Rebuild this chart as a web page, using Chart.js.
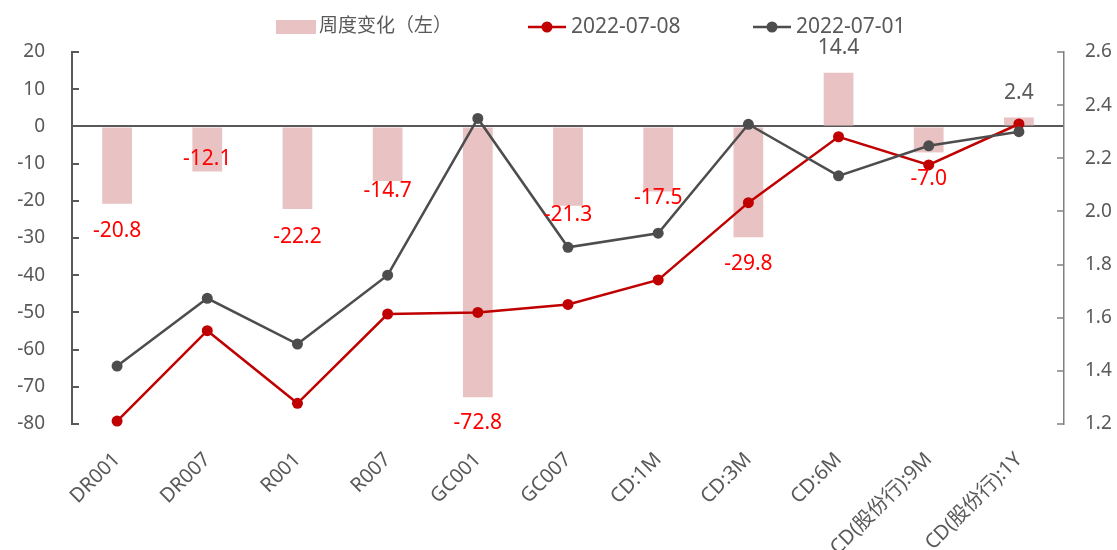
<!DOCTYPE html>
<html>
<head>
<meta charset="utf-8">
<script src="https://cdn.jsdelivr.net/npm/chart.js@4.4.0/dist/chart.umd.min.js"></script>
<style>
  html, body { margin: 0; padding: 0; background: #fff; }
</style>
</head>
<body>
<canvas id="chart" width="1117" height="550"></canvas>
<script>
// DATA
const categories = ['DR001', 'DR007', 'R001', 'R007', 'GC001', 'GC007', 'CD:1M', 'CD:3M', 'CD:6M', 'CD(股份行):9M', 'CD(股份行):1Y'];
const weeklyChange = [-20.8, -12.1, -22.2, -14.7, -72.8, -21.3, -17.5, -29.8, 14.4, -7.0, 2.4];   // bp, left axis
const rate0708 = [1.211, 1.551, 1.278, 1.614, 1.620, 1.650, 1.742, 2.033, 2.281, 2.175, 2.329];   // %, right axis
const rate0701 = [1.418, 1.673, 1.501, 1.760, 2.350, 1.865, 1.918, 2.328, 2.134, 2.247, 2.300];   // %, right axis
const leftTicks = [-80, -70, -60, -50, -40, -30, -20, -10, 0, 10, 20];
const rightTicks = [1.2, 1.4, 1.6, 1.8, 2.0, 2.2, 2.4, 2.6];
const seriesNames = ['周度变化（左）', '2022-07-08', '2022-07-01'];

// label nudges (px from bar end, + = down) so numbers clear the lines like the original
const labelShift = [27, -12, 28, 10, 26, 9, 7, 27, -25, 27, -24];

const TEXT = '#595959';
const BAR = '#E9C3C3';
const RED = '#C00000';
const GREY = '#4D4D4D';
const FAMILY = '"Noto Sans", "Noto Sans CJK SC", sans-serif';

Chart.defaults.font.family = FAMILY;
Chart.defaults.font.size = 19;
Chart.defaults.color = TEXT;

// --- small inward tick marks on both value axes ---
const insideTicks = {
    id: 'insideTicks',
    afterDraw(chart) {
        const ctx = chart.ctx;
        const area = chart.chartArea;
        ctx.save();
        const left = chart.scales.y;
        ctx.strokeStyle = TEXT;
        ctx.lineWidth = 2;
        left.ticks.forEach(t => {
            const py = Math.round(left.getPixelForValue(t.value));
            ctx.beginPath();
            ctx.moveTo(area.left, py);
            ctx.lineTo(area.left + 7, py);
            ctx.stroke();
        });
        const right = chart.scales.y1;
        ctx.strokeStyle = '#808080';
        ctx.lineWidth = 1.5;
        right.ticks.forEach(t => {
            const py = Math.round(right.getPixelForValue(t.value));
            ctx.beginPath();
            ctx.moveTo(area.right, py);
            ctx.lineTo(area.right - 7, py);
            ctx.stroke();
        });
        ctx.restore();
    }
};

// --- value labels on the bars ---
const barLabels = {
    id: 'barLabels',
    afterDatasetsDraw(chart) {
        const ctx = chart.ctx;
        const meta = chart.getDatasetMeta(0);
        ctx.save();
        ctx.font = '21px ' + FAMILY;
        ctx.textAlign = 'center';
        ctx.textBaseline = 'middle';
        meta.data.forEach((bar, i) => {
            const v = weeklyChange[i];
            ctx.fillStyle = v < 0 ? '#FF0000' : TEXT;
            ctx.fillText(v.toFixed(1), bar.x, bar.y + labelShift[i]);
        });
        ctx.restore();
    }
};

// --- legend drawn like the office style one (box / line+dot) ---
const topLegend = {
    id: 'topLegend',
    afterDraw(chart) {
        const ctx = chart.ctx;
        const cy = 27;
        ctx.save();
        ctx.textBaseline = 'middle';
        ctx.textAlign = 'left';

        ctx.fillStyle = BAR;
        ctx.fillRect(276, cy - 7, 40, 14);
        ctx.fillStyle = TEXT;
        ctx.font = '19px ' + FAMILY;
        ctx.fillText(seriesNames[0], 319, cy);

        ctx.font = '21px ' + FAMILY;
        [[528, RED, seriesNames[1]], [753, GREY, seriesNames[2]]].forEach(([x0, col, name]) => {
            ctx.strokeStyle = col;
            ctx.lineWidth = 2.5;
            ctx.beginPath();
            ctx.moveTo(x0, cy);
            ctx.lineTo(x0 + 38, cy);
            ctx.stroke();
            ctx.fillStyle = col;
            ctx.beginPath();
            ctx.arc(x0 + 19, cy, 5.5, 0, Math.PI * 2);
            ctx.fill();
            ctx.fillStyle = TEXT;
            ctx.fillText(name, x0 + 43, cy);
        });
        ctx.restore();
    }
};

const ctx = document.getElementById('chart').getContext('2d');
new Chart(ctx, {
    data: {
        labels: categories,
        datasets: [
            {
                type: 'bar',
                label: seriesNames[0],
                data: weeklyChange,
                backgroundColor: BAR,
                yAxisID: 'y',
                barPercentage: 0.33,
                categoryPercentage: 1,
                order: 3
            },
            {
                type: 'line',
                label: seriesNames[1],
                data: rate0708,
                borderColor: RED,
                backgroundColor: RED,
                borderWidth: 2.5,
                pointRadius: 5.5,
                pointBorderWidth: 0,
                pointBackgroundColor: RED,
                tension: 0,
                clip: false,
                yAxisID: 'y1',
                order: 2
            },
            {
                type: 'line',
                label: seriesNames[2],
                data: rate0701,
                borderColor: GREY,
                backgroundColor: GREY,
                borderWidth: 2.5,
                pointRadius: 5.5,
                pointBorderWidth: 0,
                pointBackgroundColor: GREY,
                tension: 0,
                clip: false,
                yAxisID: 'y1',
                order: 1
            }
        ]
    },
    options: {
        responsive: false,
        animation: false,
        layout: { padding: { top: 52, left: 0, right: 0, bottom: 0 } },
        plugins: {
            legend: { display: false },
            tooltip: { enabled: false }
        },
        scales: {
            x: {
                grid: { display: false, drawTicks: false },
                border: { display: false },
                ticks: { minRotation: 45, maxRotation: 45, padding: 24, color: TEXT, autoSkip: false, font: { size: 20 } },
                afterFit: s => { s.height = 126; }
            },
            y: {
                position: 'left',
                min: leftTicks[0],
                max: leftTicks[leftTicks.length - 1],
                afterBuildTicks: s => { s.ticks = leftTicks.map(v => ({ value: v })); },
                grid: {
                    drawTicks: false,
                    color: c => c.tick && c.tick.value === 0 ? TEXT : 'rgba(0,0,0,0)',
                    lineWidth: 2
                },
                border: { display: true, color: TEXT, width: 2 },
                ticks: { padding: 27, color: TEXT },
                afterFit: s => { s.width = 72; }
            },
            y1: {
                position: 'right',
                min: rightTicks[0],
                max: rightTicks[rightTicks.length - 1],
                afterBuildTicks: s => { s.ticks = rightTicks.map(v => ({ value: v })); },
                grid: { display: false, drawTicks: false },
                border: { display: true, color: '#808080', width: 1.5 },
                ticks: { padding: 21, color: TEXT, callback: v => Number(v).toFixed(1) },
                afterFit: s => { s.width = 53; }
            }
        }
    },
    plugins: [insideTicks, barLabels, topLegend]
});
</script>
</body>
</html>
